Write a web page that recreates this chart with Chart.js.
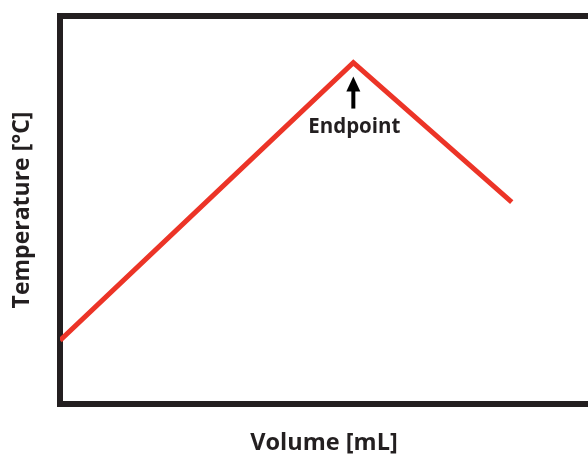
<!DOCTYPE html>
<html>
<head>
<meta charset="utf-8">
<script src="https://cdn.jsdelivr.net/npm/chart.js@4/dist/chart.umd.min.js"></script>
<style>
  html, body { margin: 0; padding: 0; background: #ffffff; }
  #wrap { width: 588px; height: 457px; }
</style>
</head>
<body>
<div id="wrap"><canvas id="chart"></canvas></div>
<script>
// titration curve: volume added vs temperature
let volumes = [0, 10, 15.4];
let temperatures = [24.1, 42.0, 33.0];
let endpointIndex = 1;
let endpointLabel = "Endpoint";
let xTitle = "Volume [mL]";
let yTitle = "Temperature [°C]";

let frameColor = "#231f20";
let lineColor = "#ec3427";

let points = [];
for (let i = 0; i < volumes.length; i++) {
    points.push({ x: volumes[i], y: temperatures[i] });
}

// arrow + label under the endpoint
let endpointMarker = {
    id: "endpointMarker",
    afterDatasetsDraw(chart) {
        let ctx = chart.ctx;
        let px = chart.scales.x.getPixelForValue(volumes[endpointIndex]);
        let py = chart.scales.y.getPixelForValue(temperatures[endpointIndex]);

        ctx.save();
        ctx.fillStyle = "#000000";
        ctx.strokeStyle = "#000000";
        ctx.lineWidth = 4;
        ctx.beginPath();
        ctx.moveTo(px, py + 26);
        ctx.lineTo(px, py + 46);
        ctx.stroke();

        ctx.beginPath();
        ctx.moveTo(px, py + 14);
        ctx.lineTo(px + 7, py + 29);
        ctx.lineTo(px - 7, py + 29);
        ctx.closePath();
        ctx.fill();

        ctx.fillStyle = frameColor;
        ctx.font = "bold 20.5px 'Open Sans'";
        ctx.textAlign = "center";
        ctx.textBaseline = "alphabetic";
        ctx.fillText(endpointLabel, px + 1, py + 70);
        ctx.restore();
    }
};

let chart = new Chart(document.getElementById("chart").getContext("2d"), {
    type: "line",
    data: {
        datasets: [{
            data: points,
            borderColor: lineColor,
            borderWidth: 5,
            borderJoinStyle: "miter",
            pointRadius: 0,
            tension: 0,
            fill: false
        }]
    },
    options: {
        responsive: true,
        maintainAspectRatio: false,
        animation: false,
        layout: { padding: { left: 0, right: 0, top: 0, bottom: 0 } },
        plugins: {
            legend: { display: false },
            tooltip: { enabled: false }
        },
        scales: {
            x: {
                type: "linear",
                position: "bottom",
                min: 0,
                max: 18,
                z: 1,
                grid: { display: false },
                ticks: { display: false },
                border: { display: true, color: frameColor, width: 6 },
                title: {
                    display: true,
                    text: xTitle,
                    color: frameColor,
                    font: { family: "'Open Sans'", size: 23.5, weight: "bold" },
                    padding: { top: 19, bottom: 0 }
                },
                afterFit: (scale) => { scale.height = 53; }
            },
            xTop: {
                type: "linear",
                position: "top",
                min: 0,
                max: 18,
                z: 1,
                grid: { display: false },
                ticks: { display: false },
                border: { display: true, color: frameColor, width: 6 },
                afterFit: (scale) => { scale.height = 16; }
            },
            y: {
                type: "linear",
                min: 20,
                max: 45,
                z: 1,
                grid: { display: false },
                ticks: { display: false },
                border: { display: true, color: frameColor, width: 6 },
                title: {
                    display: true,
                    text: yTitle,
                    color: frameColor,
                    font: { family: "'Open Sans'", size: 23, weight: "bold" },
                    padding: { top: 9, bottom: 0 }
                },
                afterFit: (scale) => { scale.width = 60; }
            }
        }
    },
    plugins: [endpointMarker]
});
</script>
</body>
</html>
